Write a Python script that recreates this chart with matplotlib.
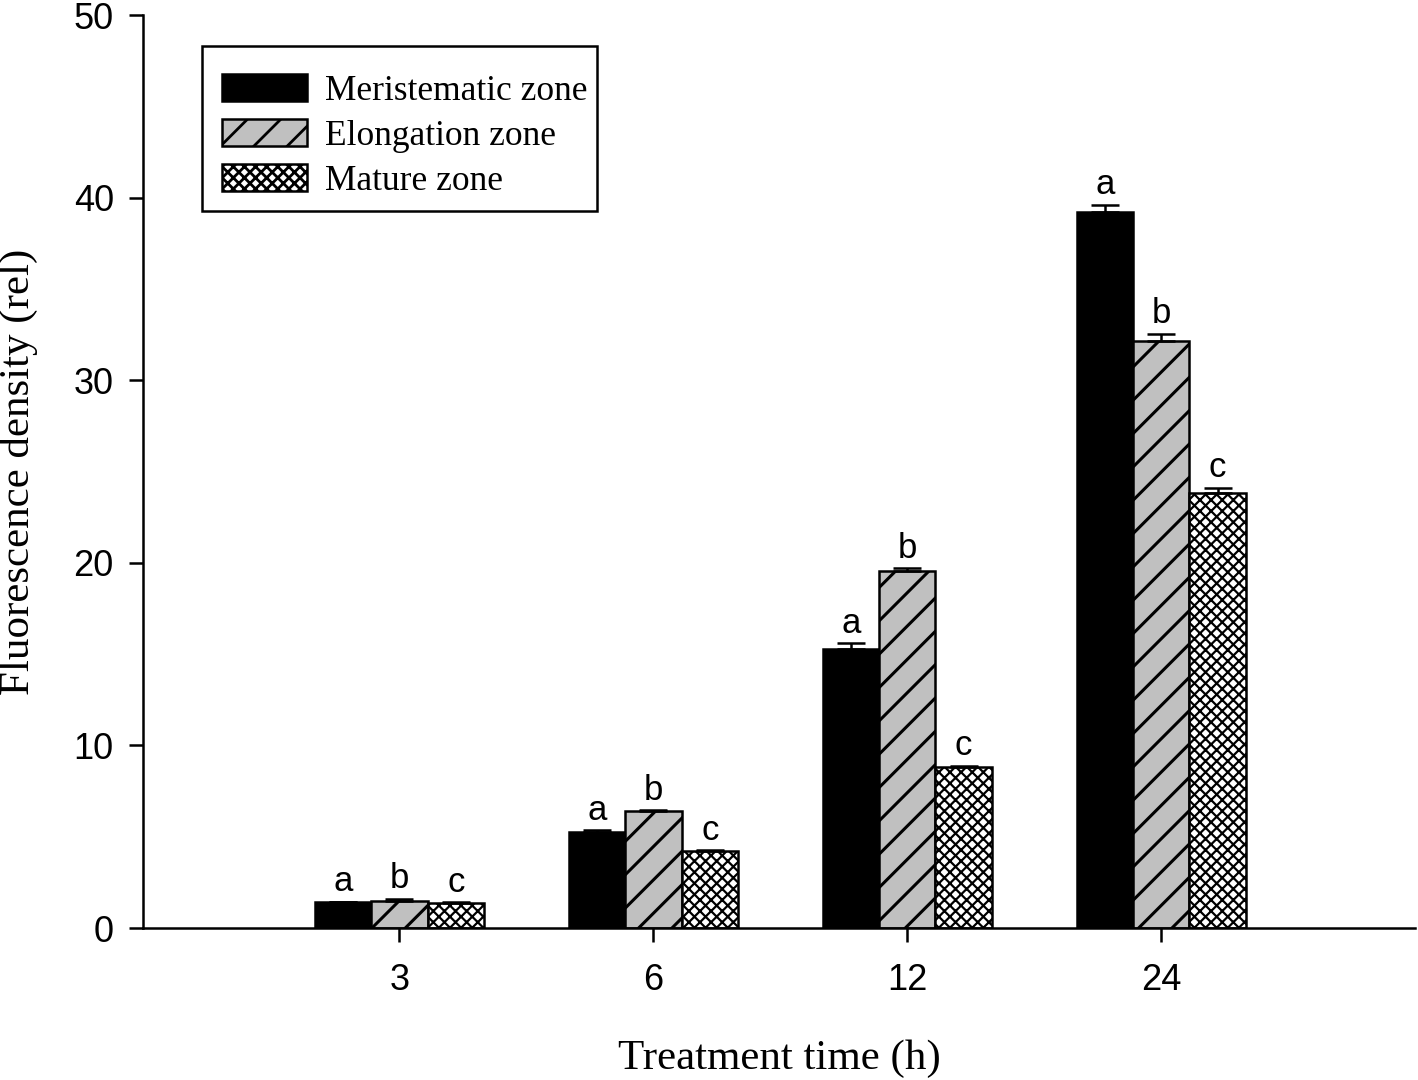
import matplotlib
matplotlib.use("Agg")
import matplotlib.pyplot as plt
from matplotlib.patches import Rectangle
import numpy as np

times = ["3", "6", "12", "24"]
series = ["Meristematic zone", "Elongation zone", "Mature zone"]
meristematic = [1.4, 5.25, 15.3, 39.2]
elongation = [1.5, 6.4, 19.55, 32.15]
mature = [1.35, 4.2, 8.8, 23.8]
meri_err = [0.05, 0.1, 0.3, 0.4]
elon_err = [0.1, 0.05, 0.15, 0.4]
mat_err = [0.05, 0.05, 0.1, 0.3]
letters = ["a", "b", "c"]
yticks = [0, 10, 20, 30, 40, 50]

plt.rcParams['hatch.linewidth'] = 2.0
fig = plt.figure(figsize=(14.18, 10.8), dpi=100)
ax = fig.add_axes([0.1008, 0.1407, 0.8972, 0.8453])

x = np.arange(len(times))
w = 0.222
vals = [meristematic, elongation, mature]
errs = [meri_err, elon_err, mat_err]
hatch_lw = {"Meristematic zone": 2.0, "Elongation zone": 2.2, "Mature zone": 1.6}
styles = [dict(facecolor="black", hatch=None),
          dict(facecolor="#c0c0c0", hatch="/"),
          dict(facecolor="white", hatch="xxx")]
handles = []
for i, (v, e, st, name) in enumerate(zip(vals, errs, styles, series)):
    pos = x + (i - 1) * w
    b = ax.bar(pos, v, w, facecolor=st["facecolor"], edgecolor="black",
               linewidth=1.8, hatch=st["hatch"], label=name, zorder=2)
    for p in b.patches:
        try:
            p.set_hatch_linewidth(hatch_lw[name])
        except AttributeError:
            pass
    handles.append(b)
    ax.errorbar(pos, v, yerr=[np.zeros(len(v)), e], fmt="none", ecolor="black",
                elinewidth=1.8, capsize=10, capthick=1.8, zorder=3)
    for p, vv, ee in zip(pos, v, e):
        ax.text(p, vv + ee + 0.2, letters[i], ha="center", va="bottom",
                fontsize=25, family="Liberation Sans")

ax.set_xlim(-1.01, 4.0)
ax.set_ylim(0, 50)
ax.set_xticks(x)
ax.set_xticklabels(times, fontsize=26, family="Liberation Sans")
ax.set_yticks(yticks)
ax.set_yticklabels([str(t) for t in yticks], fontsize=26, family="Liberation Sans")
ax.spines["top"].set_visible(False)
ax.spines["right"].set_visible(False)
for s in ["left", "bottom"]:
    ax.spines[s].set_linewidth(1.8)
ax.tick_params(direction="out", length=10, width=1.8, pad=11)
ax.tick_params(axis="x", pad=15)

ax.set_xlabel("Treatment time (h)", fontsize=31, family="Liberation Serif", labelpad=30)
ax.set_ylabel("Fluorescence density (rel)", fontsize=31, family="Liberation Serif")
ax.yaxis.set_label_coords((38 - 143) / 1272, 0.5)

leg = fig.legend(handles=handles, loc="upper left", bbox_to_anchor=(222 / 1418, 1 - 74 / 1080),
                 prop={"family": "Liberation Serif", "size": 25.5},
                 frameon=False, handlelength=2.4, handleheight=0.8, labelspacing=0.32,
                 borderpad=0, handletextpad=0.5, borderaxespad=0)
for h in leg.legend_handles:
    try:
        h.set_hatch_linewidth(hatch_lw[h.get_label()])
    except Exception:
        pass
fig.patches.append(Rectangle((202 / 1418, 1 - 211 / 1080), 395 / 1418, 165 / 1080,
                             transform=fig.transFigure, fill=False, edgecolor="black",
                             linewidth=1.8))

fig.savefig("out.png", dpi=100)
